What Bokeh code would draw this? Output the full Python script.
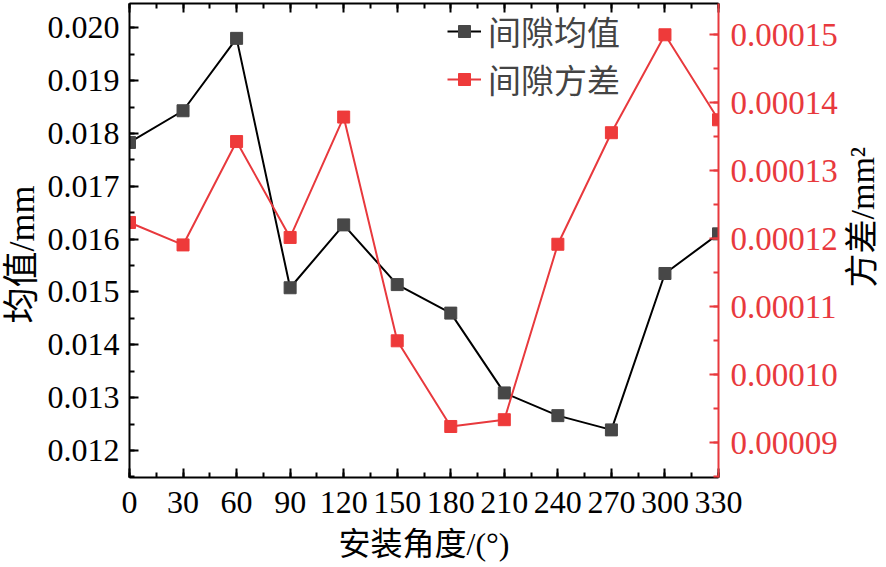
import math
from bokeh.plotting import figure
from bokeh.layouts import row
from bokeh.models import (Range1d, LinearAxis, SingleIntervalTicker,
                          NumeralTickFormatter, Legend, LegendItem,
                          CustomJSTickFormatter, Title)
from bokeh.embed import file_html
from bokeh.resources import INLINE

# ---- data ----
angles = [0, 30, 60, 90, 120, 150, 180, 210, 240, 270, 300, 330]
gap_mean = [0.01783, 0.01843, 0.01980, 0.01508, 0.01627, 0.01514,
            0.01460, 0.01309, 0.01266, 0.01239, 0.01535, 0.01610]
gap_var = [0.0001224, 0.0001191, 0.0001343, 0.0001202, 0.0001379, 0.0001050,
           0.0000924, 0.0000934, 0.0001192, 0.0001356, 0.0001500, 0.0001375]
mean_label = "间隙均值"
var_label = "间隙方差"
x_title = "安装角度/(°)"
y_title = "均值/mm"
y2_title = "方差/mm²"

FONT = "'Liberation Serif', 'Noto Sans CJK SC'"
RED = "#E8393D"
RED_M = "#EE3A3A"
FS = "32px"
H = 569
TOP_B, BOT_B = 6, 89

Y0, Y1 = 0.011489, 0.02046
main = figure(width=803, height=H, output_backend="svg", toolbar_location=None,
              x_range=Range1d(0, 330), y_range=Range1d(Y0, Y1),
              min_border_left=88, min_border_right=126, min_border_top=TOP_B,
              min_border_bottom=BOT_B)
main.styles = {"margin-top": "-3px"}
main.extra_y_ranges = {"var": Range1d(0.0000849, 0.0001546)}
main.outline_line_color = None
main.grid.visible = False
main.background_fill_color = "white"
main.border_fill_color = "white"

def style_axis(ax, color="black"):
    ax.axis_line_color = color
    ax.axis_line_width = 2
    ax.major_tick_line_color = color
    ax.minor_tick_line_color = color
    ax.major_tick_line_width = 2
    ax.minor_tick_line_width = 2
    ax.major_tick_in = 9
    ax.major_tick_out = 0
    ax.minor_tick_in = 5
    ax.minor_tick_out = 0
    ax.major_label_text_font = FONT
    ax.major_label_text_font_size = FS
    ax.major_label_text_color = color
    ax.axis_label_text_font = FONT
    ax.axis_label_text_font_size = FS
    ax.axis_label_text_font_style = "normal"
    ax.axis_label_text_color = color

xax = main.xaxis[0]
style_axis(xax)
xax.ticker = SingleIntervalTicker(interval=30, num_minor_ticks=2)
xax.major_label_standoff = 14
xax.axis_label = x_title
xax.axis_label_standoff = 10

yax = main.yaxis[0]
style_axis(yax)
yax.ticker = SingleIntervalTicker(interval=0.001, num_minor_ticks=2)
yax.formatter = NumeralTickFormatter(format="0.000")
yax.major_label_standoff = 10

top = LinearAxis(ticker=SingleIntervalTicker(interval=30, num_minor_ticks=2),
                 formatter=CustomJSTickFormatter(code="return ''"))
style_axis(top)
top.major_label_standoff = 0
top.axis_label = None
main.add_layout(top, "above")

right = LinearAxis(y_range_name="var",
                   ticker=SingleIntervalTicker(interval=0.00001, num_minor_ticks=2),
                   formatter=NumeralTickFormatter(format="0.00000"))
style_axis(right, RED)
right.major_label_text_font_size = "33px"
right.major_label_standoff = 12
main.add_layout(right, "right")

l1 = main.line(angles, gap_mean, line_color="black", line_width=2)
s1 = main.scatter(angles, gap_mean, marker="square", size=12,
                  fill_color="#474747", line_color="#474747")
l2 = main.line(angles, gap_var, line_color=RED, line_width=2, y_range_name="var")
s2 = main.scatter(angles, gap_var, marker="square", size=12,
                  fill_color=RED_M, line_color=RED_M, y_range_name="var")

legend = Legend(items=[LegendItem(label=mean_label, renderers=[l1, s1]),
                       LegendItem(label=var_label, renderers=[l2, s2])],
                location=(318, 374))
legend.border_line_color = None
legend.background_fill_alpha = 0
legend.label_text_font = FONT
legend.label_text_font_size = "33px"
legend.glyph_width = 34
legend.glyph_height = 30
legend.padding = 0
legend.margin = 0
legend.spacing = -6
legend.label_standoff = 7
main.add_layout(legend, "center")


def title_panel(text, size, width, offset, styles):
    f = figure(width=width, height=H, output_backend="svg", toolbar_location=None,
               title=None, x_range=Range1d(0, 1), y_range=Range1d(0, 1),
               min_border_left=0, min_border_right=0,
               min_border_top=TOP_B, min_border_bottom=BOT_B)
    f.styles = styles
    f.axis.visible = False
    f.grid.visible = False
    f.outline_line_color = None
    f.background_fill_color = "white"
    f.border_fill_color = "white"
    # text starts `offset` px above the frame bottom and reads upward
    f.add_layout(Title(text=text, align="left", text_font=FONT,
                       text_font_size=size, text_font_style="normal",
                       text_color="black", standoff=0, offset=offset), "left")
    return f


lside = title_panel(y_title, "36px", 42, 154,
                    {"margin-left": "-1px", "margin-top": "-3px"})
rside = title_panel(y2_title, "34px", 36, 190, {"margin-top": "-3px"})

p = row(lside, main, rside)
open("out.html", "w").write(file_html(p, INLINE))
